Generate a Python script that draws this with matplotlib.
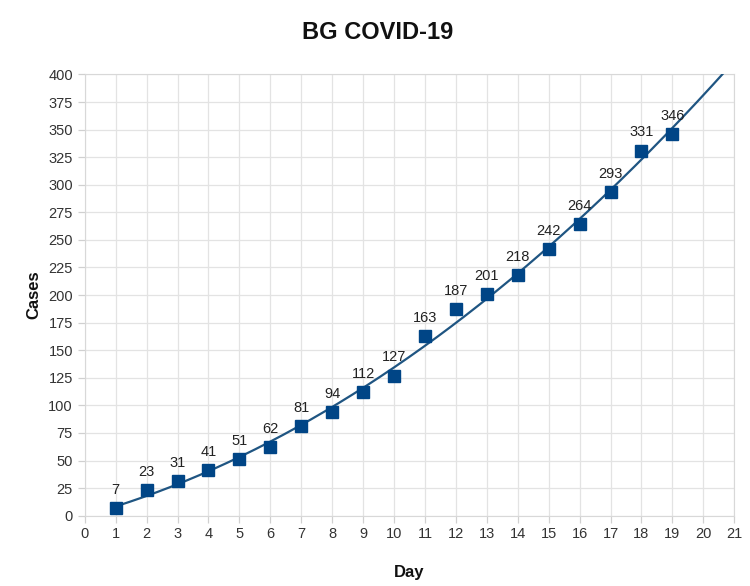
import numpy as np
import matplotlib
matplotlib.use("Agg")
import matplotlib.pyplot as plt

days = [1, 2, 3, 4, 5, 6, 7, 8, 9, 10, 11, 12, 13, 14, 15, 16, 17, 18, 19]
cases = [7, 23, 31, 41, 51, 62, 81, 94, 112, 127, 163, 187, 201, 218, 242, 264, 293, 331, 346]
yticks = list(range(0, 401, 25))
xticks = list(range(0, 22))

plt.rcParams['font.family'] = ['Liberation Sans', 'DejaVu Sans']

fig = plt.figure(figsize=(7.5, 5.86), dpi=100)
ax = fig.add_axes([0.113, 0.12, 0.866, 0.753])

# polynomial trend line (degree 2) fitted on data, extended forward
coef = np.polyfit(days, cases, 2)
xt = np.linspace(1, 21, 400)
ax.plot(xt, np.polyval(coef, xt), color='#1f5582', lw=1.6, zorder=3)

ax.plot(days, cases, linestyle='none', marker='s', markersize=8.5,
        color='#004586', zorder=4)
for d, c in zip(days, cases):
    ax.annotate(str(c), (d, c), xytext=(0, 8), textcoords='offset points',
                ha='center', va='bottom', fontsize=10.5, color='#222222', zorder=5)

ax.set_xlim(0, 21)
ax.set_ylim(0, 400)
ax.set_xticks(xticks)
ax.set_yticks(yticks)
ax.grid(True, color='#e3e3e3', lw=0.9)
ax.set_axisbelow(True)
for s in ax.spines.values():
    s.set_color('#d8d8d8')
ax.tick_params(axis='both', colors='#d0d0d0', labelcolor='#333333',
               labelsize=10.5, length=5, width=0.9)

fig.text(0.503, 0.944, 'BG COVID-19', fontsize=17, fontweight='bold',
         color='#111111', ha='center', va='center')
ax.set_xlabel('Day', fontsize=12, fontweight='bold', labelpad=17, color='#111111')
ax.set_ylabel('Cases', fontsize=12, fontweight='bold', labelpad=5, color='#111111')

fig.savefig('out.png', dpi=100, facecolor='white')
